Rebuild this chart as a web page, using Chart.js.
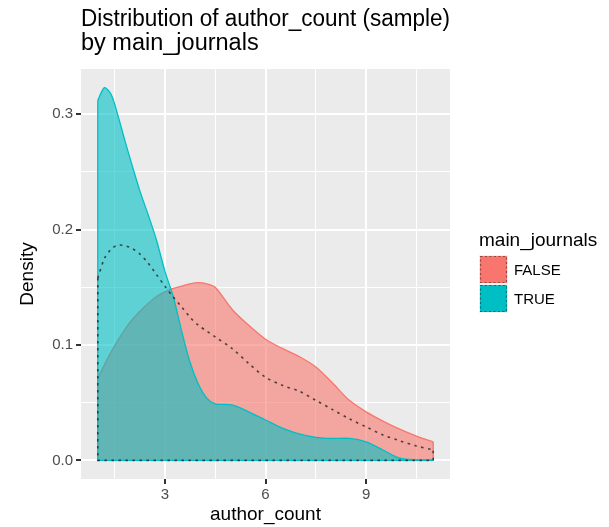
<!DOCTYPE html>
<html>
<head>
<meta charset="utf-8">
<script src="https://cdn.jsdelivr.net/npm/chart.js@4/dist/chart.umd.min.js"></script>
<style>
html,body{margin:0;padding:0;background:#ffffff;}
#wrap{width:609px;height:527px;position:relative;}
</style>
</head>
<body>
<div id="wrap"><canvas id="c" width="609" height="527"></canvas></div>
<script>
// ---------- data ----------
const titleLines = ['Distribution of author_count (sample)', 'by main_journals'];
const xAxisTitle = 'author_count';
const yAxisTitle = 'Density';
const legendTitle = 'main_journals';
const groupNames = ['FALSE', 'TRUE'];

const authorCount = [1, 1.2, 1.4, 1.6, 1.8, 2, 2.25, 2.5, 2.75, 3, 3.25, 3.5, 3.75, 4, 4.25, 4.5,
                     5, 5.5, 6, 6.5, 7, 7.5, 8, 8.5, 9, 9.5, 10, 10.5, 11];
const densityFalse = [0.071, 0.083, 0.094, 0.104, 0.113, 0.121, 0.129, 0.136, 0.142, 0.146, 0.149, 0.151, 0.153, 0.154, 0.153, 0.150,
                      0.131, 0.117, 0.105, 0.097, 0.090, 0.081, 0.067, 0.052, 0.042, 0.034, 0.027, 0.021, 0.016];
const densityTrue  = [0.312, 0.323, 0.317, 0.299, 0.278, 0.258, 0.234, 0.213, 0.191, 0.164, 0.142, 0.112, 0.085, 0.066, 0.054, 0.049,
                      0.048, 0.042, 0.035, 0.028, 0.023, 0.020, 0.019, 0.019, 0.016, 0.009, 0.002, 0.0005, 0.0003];
const densityAll   = [0.158, 0.175, 0.183, 0.1865, 0.186, 0.184, 0.179, 0.171, 0.161, 0.151, 0.1415, 0.133, 0.124, 0.117, 0.112, 0.107,
                      0.097, 0.084, 0.072, 0.065, 0.060, 0.052, 0.044, 0.036, 0.029, 0.022, 0.017, 0.0125, 0.009];

const xMajorTicks = [3, 6, 9];
const xMinorTicks = [1.5, 4.5, 7.5, 10.5];
const yMajorTicks = [0, 0.1, 0.2, 0.3];
const yMinorTicks = [0.05, 0.15, 0.25];

// ---------- styling ----------
const FONT = "'Liberation Sans', Arial, Helvetica, sans-serif";
const RED = '#F8766D', CYAN = '#00BFC4';
const RED_FILL = 'rgba(248,118,109,0.6)', CYAN_FILL = 'rgba(0,191,196,0.6)';
const DOT = 'rgba(45,45,45,0.85)';

const curve = (xs, ys) => xs.map((x, i) => ({x: x, y: ys[i]}));
// closing edges of a density polygon: left side, baseline, right side
const edges = (xs, ys) => [
  {x: xs[0], y: ys[0]}, {x: xs[0], y: 0},
  {x: xs[xs.length - 1], y: 0}, {x: xs[xs.length - 1], y: ys[ys.length - 1]}
];

const xMin = Math.min(...authorCount), xMax = Math.max(...authorCount);
const xPad = (xMax - xMin) * 0.05;
const yMaxData = Math.max(...densityFalse, ...densityTrue, ...densityAll);
const yPad = yMaxData * 0.05;

const near = (arr, v) => arr.some(a => Math.abs(a - v) < 1e-9);

const panelBg = {
  id: 'panelBg',
  beforeDraw(chart) {
    const {ctx, chartArea: a} = chart;
    ctx.save();
    ctx.fillStyle = '#EBEBEB';
    ctx.fillRect(a.left, a.top, a.right - a.left, a.bottom - a.top);
    ctx.restore();
  }
};

const ggLegend = {
  id: 'ggLegend',
  afterDraw(chart) {
    const ctx = chart.ctx;
    const a = chart.chartArea;
    const x0 = a.right + 29;
    const key = 29;
    const keyTop = 255;
    ctx.save();
    ctx.fillStyle = '#000';
    ctx.font = '19px ' + FONT;
    ctx.textBaseline = 'alphabetic';
    ctx.textAlign = 'left';
    ctx.fillText(legendTitle, x0, 246);
    const fills = [RED, CYAN];
    groupNames.forEach((g, i) => {
      const y = keyTop + i * key;
      ctx.fillStyle = '#F2F2F2';
      ctx.fillRect(x0, y, key, key);
      ctx.fillStyle = fills[i];
      ctx.fillRect(x0 + 1, y + 1, key - 2, key - 2);
      ctx.lineWidth = 1.2;
      ctx.setLineDash([2, 2.5]);
      ctx.strokeStyle = 'rgba(40,40,40,0.55)';
      ctx.strokeRect(x0 + 1.5, y + 1.5, key - 3, key - 3);
      ctx.setLineDash([]);
      ctx.fillStyle = '#000';
      ctx.font = '15px ' + FONT;
      ctx.textBaseline = 'middle';
      ctx.fillText(g, x0 + key + 6, y + key / 2 + 1);
    });
    ctx.restore();
  }
};

const gridCommon = (major) => ({
  color: '#FFFFFF',
  lineWidth: (c) => (c.tick && near(major, c.tick.value)) ? 2 : 1,
  tickColor: (c) => (c.tick && near(major, c.tick.value)) ? '#333333' : 'rgba(0,0,0,0)',
  tickWidth: 2,
  tickLength: 5,
  drawOnChartArea: true,
  drawTicks: true
});

const base = {pointRadius: 0, pointHoverRadius: 0};

new Chart(document.getElementById('c'), {
  type: 'line',
  data: {
    datasets: [
      Object.assign({label: groupNames[0], data: curve(authorCount, densityFalse),
        borderColor: RED, backgroundColor: RED_FILL, borderWidth: 1.3, fill: 'origin', tension: 0.3, order: 6}, base),
      Object.assign({label: groupNames[0] + ' edge', data: edges(authorCount, densityFalse),
        borderColor: RED, borderWidth: 1.3, fill: false, tension: 0, order: 5}, base),
      Object.assign({label: groupNames[1], data: curve(authorCount, densityTrue),
        borderColor: CYAN, backgroundColor: CYAN_FILL, borderWidth: 1.3, fill: 'origin', tension: 0.3, order: 4}, base),
      Object.assign({label: groupNames[1] + ' edge', data: edges(authorCount, densityTrue),
        borderColor: CYAN, borderWidth: 1.3, fill: false, tension: 0, order: 3}, base),
      Object.assign({label: 'all', data: curve(authorCount, densityAll),
        borderColor: DOT, borderWidth: 1.6, borderDash: [2.5, 4.5], fill: false, tension: 0.3, order: 2}, base),
      Object.assign({label: 'all edge', data: edges(authorCount, densityAll),
        borderColor: DOT, borderWidth: 1.6, borderDash: [2.5, 4.5], fill: false, tension: 0, order: 1}, base)
    ]
  },
  options: {
    responsive: false,
    animation: false,
    devicePixelRatio: 1,
    layout: {padding: {left: 0, right: 159, top: 0, bottom: 0}},
    plugins: {
      legend: {display: false},
      tooltip: {enabled: false},
      title: {
        display: true,
        text: titleLines,
        align: 'start',
        fullSize: false,
        color: '#000000',
        font: {family: FONT, size: 23.5, weight: 'normal', lineHeight: 1},
        padding: {top: 8, bottom: 14}
      }
    },
    scales: {
      x: {
        type: 'linear',
        min: xMin - xPad,
        max: xMax + xPad,
        afterBuildTicks: (s) => { s.ticks = [...xMajorTicks, ...xMinorTicks].sort((a, b) => a - b).map(v => ({value: v})); },
        afterFit: (s) => { s.height = 48; },
        border: {display: false},
        grid: gridCommon(xMajorTicks),
        ticks: {
          autoSkip: false, maxRotation: 0, padding: 2,
          color: '#4D4D4D', font: {family: FONT, size: 15},
          callback: (v) => near(xMajorTicks, v) ? String(v) : ''
        },
        title: {display: true, text: xAxisTitle, color: '#000', font: {family: FONT, size: 19}, padding: {top: 0, bottom: 1}}
      },
      y: {
        type: 'linear',
        min: -yPad,
        max: yMaxData + yPad,
        afterBuildTicks: (s) => { s.ticks = [...yMajorTicks, ...yMinorTicks].sort((a, b) => a - b).map(v => ({value: v})); },
        afterFit: (s) => { s.width = 81; },
        border: {display: false},
        grid: gridCommon(yMajorTicks),
        ticks: {
          autoSkip: false, padding: 3,
          color: '#4D4D4D', font: {family: FONT, size: 15},
          callback: (v) => near(yMajorTicks, v) ? v.toFixed(1) : ''
        },
        title: {display: true, text: yAxisTitle, color: '#000', font: {family: FONT, size: 19}, padding: {top: 16, bottom: 0}}
      }
    }
  },
  plugins: [panelBg, ggLegend]
});
</script>
</body>
</html>
